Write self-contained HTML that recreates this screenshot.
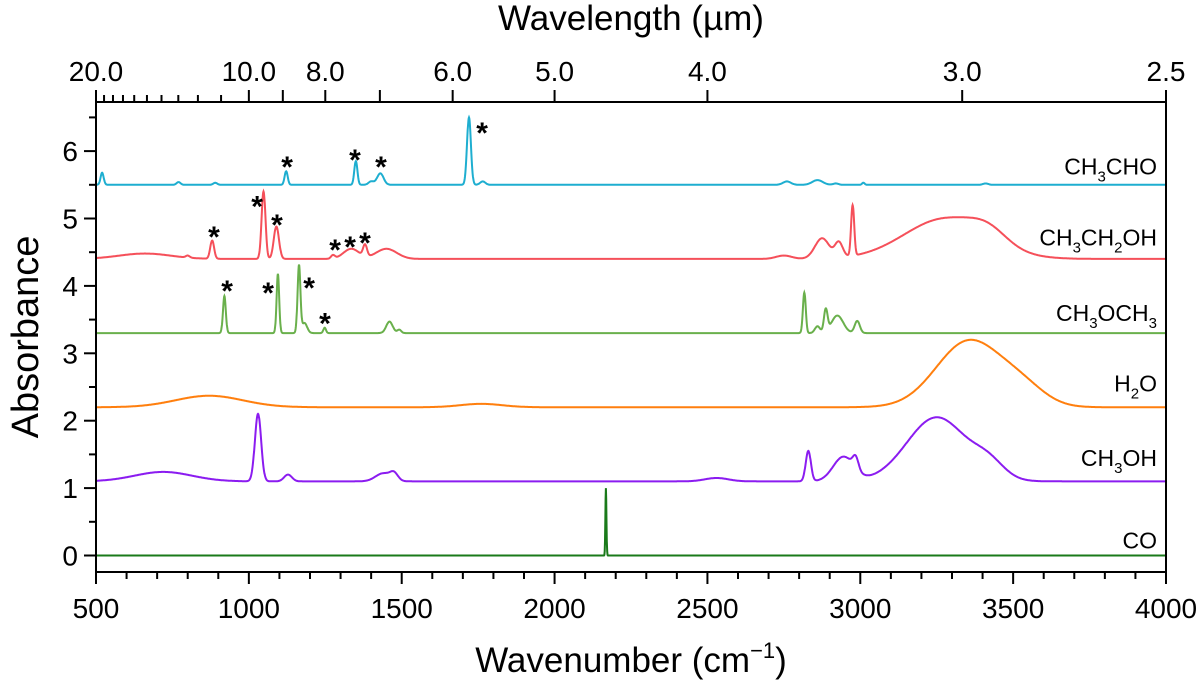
<!DOCTYPE html>
<html><head><meta charset="utf-8"><style>
body{margin:0;background:#fff}
svg{font-family:"Liberation Sans",Arial,sans-serif}
</style></head><body>
<svg id="chart" width="1200" height="684" xmlns="http://www.w3.org/2000/svg"></svg>
<script>
const xTicks=[500,1000,1500,2000,2500,3000,3500,4000];
const yTicks=[0,1,2,3,4,5,6];
const topLabels=[20.0,10.0,8.0,6.0,5.0,4.0,3.0,2.5];
const topMajor=[20,10,9,8,7,6,5,4,3,2.5];
const topMinor=[19,18,17,16,15,14,13,12,11];
const names=["CO","CH3OH","H2O","CH3OCH3","CH3CH2OH","CH3CHO"];
const baselines=[0,1.1,2.2,3.3,4.4,5.5];
const colors=["#1a7a1a","#8b1cf0","#ff7f0e","#6ab04c","#f5505a","#1eaed0"];
// peaks: [center cm-1, height, fwhm]
const peaksCO=[[2168,1.0,4]];
const peaksCH3OH=[[720,0.14,220],[1030,1.0,24],[1128,0.1,30],[1440,0.12,60],[1475,0.1,30],[2530,0.05,90],[2830,0.45,20],[2945,0.36,80],[2985,0.18,22],[3250,0.95,230],[3420,0.22,120]];
const peaksH2O=[[870,0.17,260],[1760,0.05,160],[3355,0.98,250],[3530,0.25,180]];
const peaksCH3OCH3=[[920,0.55,11],[1095,0.88,10],[1164,1.0,11],[1182,0.15,20],[1248,0.08,10],[1460,0.17,25],[1492,0.05,15],[2817,0.6,11],[2860,0.1,20],[2887,0.33,14],[2925,0.26,45],[2990,0.18,20]];
const peaksCH3CH2OH=[[660,0.08,200],[800,0.03,15],[880,0.27,15],[1048,1.0,15],[1090,0.48,20],[1275,0.05,15],[1335,0.15,60],[1380,0.17,15],[1450,0.15,80],[2750,0.05,60],[2875,0.3,55],[2930,0.22,30],[2975,0.75,12],[3280,0.6,320],[3420,0.18,140]];
const peaksCH3CHO=[[520,0.18,12],[770,0.04,15],[890,0.03,15],[1122,0.2,12],[1350,0.35,12],[1400,0.05,20],[1430,0.17,25],[1720,1.0,15],[1765,0.05,20],[2760,0.05,30],[2860,0.07,40],[2920,0.02,20],[3010,0.03,10],[3410,0.02,20]];
const allPeaks=[peaksCO,peaksCH3OH,peaksH2O,peaksCH3OCH3,peaksCH3CH2OH,peaksCH3CHO];
const labelY=[0.22,1.45,2.55,3.6,4.72,5.77];
const stars=[[1125,5.84],[1347,5.94],[1432,5.84],[1763,6.34],[886,4.80],[1027,5.25],[1092,4.98],[1282,4.61],[1331,4.65],[1380,4.71],[929,4.0],[1063,3.97],[1197,4.04],[1249,3.52]];

const L=96,R=1166,T=102,B=572;
const X=v=>L+(v-500)/3500*(R-L);
const Y=v=>555.5-v*67.4;
const NS="http://www.w3.org/2000/svg";
const svg=document.getElementById('chart');
function mk(t,a,p){const e=document.createElementNS(NS,t);for(const k in a)e.setAttribute(k,a[k]);(p||svg).appendChild(e);return e;}

allPeaks.forEach((pk,i)=>{
  let d="";
  for(let w=500;w<=4000;w+=1){
    let v=baselines[i];
    pk.forEach(p=>{const z=(w-p[0])/p[2];v+=p[1]*Math.exp(-2.7726*z*z);});
    d+=(w===500?"M":"L")+X(w).toFixed(1)+","+Y(v).toFixed(1);
  }
  const e=mk('path',{d:d,fill:"none",stroke:colors[i],"stroke-width":2});
  
  
});
const labelHTML={"CO":"CO","CH3OH":"CH<tspan font-size='15' dy='7'>3</tspan><tspan dy='-7'>OH</tspan>","H2O":"H<tspan font-size='15' dy='7'>2</tspan><tspan dy='-7'>O</tspan>","CH3OCH3":"CH<tspan font-size='15' dy='7'>3</tspan><tspan dy='-7'>OCH</tspan><tspan font-size='15' dy='7'>3</tspan>","CH3CH2OH":"CH<tspan font-size='15' dy='7'>3</tspan><tspan dy='-7'>CH</tspan><tspan font-size='15' dy='7'>2</tspan><tspan dy='-7'>OH</tspan>","CH3CHO":"CH<tspan font-size='15' dy='7'>3</tspan><tspan dy='-7'>CHO</tspan>"};
names.forEach((n,i)=>{
  const t=mk('text',{x:1157,y:Y(labelY[i])+8,"font-size":23,"text-anchor":"end"});
  t.innerHTML=labelHTML[n];
  
  
});
stars.forEach(s=>{
  const t=mk('text',{x:X(s[0]),y:Y(s[1])+15,"font-size":30,"font-weight":"bold","text-anchor":"middle"});
  t.textContent="*";
  
  
});
const f=mk('rect',{x:L,y:T,width:R-L,height:B-T,fill:"none",stroke:"#000","stroke-width":2});


for(let w=500;w<=4000;w+=100){
  const maj=w%500===0;
  mk('line',{x1:X(w),x2:X(w),y1:B,y2:B+(maj?12:7),stroke:"#000","stroke-width":2});
}
xTicks.forEach(w=>{
  const t=mk('text',{x:X(w),y:618,"font-size":28,"text-anchor":"middle"});
  t.textContent=w;
  
  
});
for(let v=0;v<=6.5;v+=0.5){
  const maj=Math.abs(v-Math.round(v))<1e-6;
  mk('line',{x1:L,x2:L-(maj?12:7),y1:Y(v),y2:Y(v),stroke:"#000","stroke-width":2});
}
yTicks.forEach(v=>{
  const t=mk('text',{x:78,y:Y(v)+10,"font-size":28,"text-anchor":"end"});
  t.textContent=v;
  
  
});
topMajor.forEach(l=>{const x=X(10000/l);mk('line',{x1:x,x2:x,y1:T,y2:T-12,stroke:"#000","stroke-width":2});});
topMinor.forEach(l=>{const x=X(10000/l);mk('line',{x1:x,x2:x,y1:T,y2:T-7,stroke:"#000","stroke-width":2});});
topLabels.forEach(l=>{
  const t=mk('text',{x:X(10000/l),y:81,"font-size":28,"text-anchor":"middle"});
  t.textContent=l.toFixed(1);
  
  
});
let t=mk('text',{x:631,y:30,"font-size":35,"text-anchor":"middle"});
t.textContent="Wavelength (\u00b5m)";


t=mk('text',{x:631,y:672,"font-size":35,"text-anchor":"middle"});
t.innerHTML="Wavenumber (cm<tspan font-size='22' dy='-14'>\u22121</tspan><tspan dy='14'>)</tspan>";


t=mk('text',{x:0,y:0,"font-size":38,"text-anchor":"middle",transform:"translate(38,337) rotate(-90)"});
t.textContent="Absorbance";


</script>
</body></html>
